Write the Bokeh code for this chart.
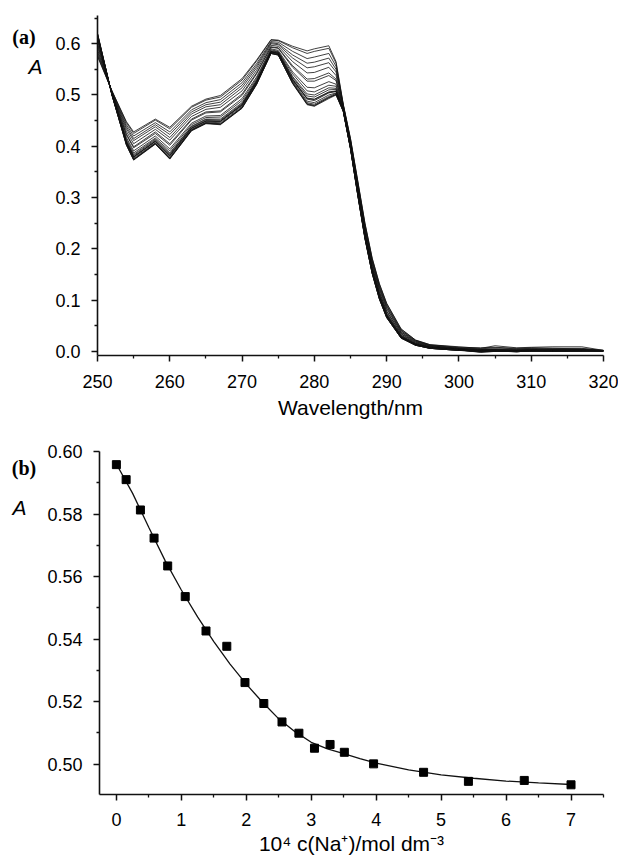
from bokeh.plotting import figure
from bokeh.layouts import column, row
from bokeh.models import Range1d, FixedTicker, PrintfTickFormatter
from bokeh.core.properties import value
from bokeh.embed import file_html
from bokeh.resources import INLINE

# ---------------- panel (a): absorption spectra ----------------
wavelength = [250, 252, 254, 255, 258, 260, 263, 265, 267, 270, 272, 274, 275, 277,
              279, 280, 282, 283, 284, 285, 286, 287, 288, 289, 290, 292, 294, 296,
              300, 303, 305, 308, 310, 313, 317, 320]

# absorbance of the 20 titration spectra (one value per spectrum) at each wavelength
abs_250 = [0.575, 0.577, 0.581, 0.585, 0.589, 0.594, 0.598, 0.601, 0.606, 0.609, 0.611, 0.613, 0.615, 0.614, 0.615, 0.617, 0.618, 0.620, 0.619, 0.620]
abs_252 = [0.508, 0.508, 0.507, 0.506, 0.505, 0.505, 0.504, 0.503, 0.503, 0.502, 0.502, 0.501, 0.501, 0.501, 0.501, 0.501, 0.500, 0.500, 0.500, 0.500]
abs_254 = [0.448, 0.446, 0.442, 0.438, 0.434, 0.429, 0.424, 0.422, 0.417, 0.414, 0.411, 0.409, 0.407, 0.408, 0.407, 0.405, 0.404, 0.403, 0.403, 0.402]
abs_255 = [0.428, 0.425, 0.420, 0.415, 0.411, 0.405, 0.399, 0.397, 0.391, 0.387, 0.384, 0.382, 0.379, 0.380, 0.379, 0.377, 0.375, 0.374, 0.374, 0.373]
abs_258 = [0.453, 0.451, 0.446, 0.442, 0.438, 0.433, 0.428, 0.425, 0.420, 0.416, 0.414, 0.412, 0.410, 0.410, 0.409, 0.407, 0.406, 0.405, 0.405, 0.404]
abs_260 = [0.437, 0.434, 0.428, 0.423, 0.417, 0.412, 0.405, 0.402, 0.395, 0.391, 0.387, 0.385, 0.382, 0.383, 0.381, 0.379, 0.377, 0.376, 0.376, 0.375]
abs_263 = [0.478, 0.476, 0.471, 0.467, 0.463, 0.458, 0.453, 0.451, 0.445, 0.442, 0.439, 0.438, 0.435, 0.436, 0.435, 0.433, 0.432, 0.431, 0.431, 0.430]
abs_265 = [0.492, 0.490, 0.485, 0.481, 0.477, 0.472, 0.467, 0.465, 0.459, 0.456, 0.453, 0.452, 0.449, 0.450, 0.449, 0.447, 0.446, 0.445, 0.445, 0.444]
abs_267 = [0.499, 0.496, 0.491, 0.486, 0.481, 0.476, 0.469, 0.467, 0.460, 0.457, 0.453, 0.451, 0.449, 0.449, 0.448, 0.446, 0.444, 0.443, 0.443, 0.442]
abs_270 = [0.532, 0.529, 0.524, 0.519, 0.514, 0.508, 0.502, 0.499, 0.493, 0.489, 0.485, 0.483, 0.481, 0.481, 0.480, 0.478, 0.476, 0.475, 0.475, 0.474]
abs_272 = [0.568, 0.566, 0.561, 0.557, 0.553, 0.548, 0.543, 0.541, 0.535, 0.532, 0.529, 0.528, 0.525, 0.526, 0.525, 0.523, 0.522, 0.521, 0.521, 0.520]
abs_274 = [0.608, 0.607, 0.604, 0.602, 0.600, 0.597, 0.594, 0.593, 0.590, 0.588, 0.586, 0.585, 0.584, 0.584, 0.584, 0.583, 0.582, 0.581, 0.581, 0.581]
abs_275 = [0.607, 0.606, 0.603, 0.600, 0.598, 0.595, 0.592, 0.591, 0.587, 0.585, 0.584, 0.583, 0.581, 0.582, 0.581, 0.580, 0.579, 0.578, 0.578, 0.578]
abs_277 = [0.595, 0.592, 0.585, 0.578, 0.572, 0.565, 0.557, 0.554, 0.545, 0.541, 0.536, 0.534, 0.530, 0.531, 0.529, 0.527, 0.525, 0.523, 0.523, 0.522]
abs_279 = [0.586, 0.581, 0.571, 0.562, 0.553, 0.543, 0.531, 0.527, 0.515, 0.508, 0.502, 0.498, 0.493, 0.494, 0.492, 0.488, 0.485, 0.482, 0.483, 0.481]
abs_280 = [0.590, 0.585, 0.574, 0.564, 0.555, 0.544, 0.532, 0.527, 0.514, 0.506, 0.500, 0.496, 0.491, 0.492, 0.489, 0.485, 0.482, 0.479, 0.480, 0.478]
abs_282 = [0.596, 0.591, 0.581, 0.572, 0.563, 0.554, 0.543, 0.538, 0.526, 0.519, 0.514, 0.510, 0.505, 0.506, 0.504, 0.500, 0.497, 0.495, 0.495, 0.493]
abs_283 = [0.565, 0.562, 0.556, 0.550, 0.545, 0.538, 0.531, 0.528, 0.521, 0.517, 0.513, 0.511, 0.507, 0.508, 0.507, 0.504, 0.503, 0.501, 0.501, 0.500]
abs_284 = [0.482, 0.481, 0.480, 0.479, 0.478, 0.476, 0.475, 0.474, 0.473, 0.472, 0.471, 0.470, 0.470, 0.470, 0.469, 0.469, 0.469, 0.468, 0.468, 0.468]
abs_285 = [0.415, 0.414, 0.412, 0.410, 0.409, 0.407, 0.405, 0.404, 0.401, 0.400, 0.399, 0.398, 0.397, 0.398, 0.397, 0.396, 0.396, 0.395, 0.395, 0.395]
abs_286 = [0.333, 0.332, 0.329, 0.327, 0.324, 0.322, 0.318, 0.317, 0.314, 0.312, 0.311, 0.310, 0.308, 0.309, 0.308, 0.307, 0.306, 0.305, 0.305, 0.305]
abs_287 = [0.250, 0.249, 0.246, 0.243, 0.241, 0.238, 0.234, 0.233, 0.230, 0.228, 0.226, 0.225, 0.223, 0.224, 0.223, 0.222, 0.221, 0.220, 0.220, 0.220]
abs_288 = [0.182, 0.181, 0.178, 0.175, 0.173, 0.170, 0.166, 0.165, 0.162, 0.160, 0.158, 0.157, 0.155, 0.156, 0.155, 0.154, 0.153, 0.152, 0.152, 0.152]
abs_289 = [0.132, 0.131, 0.128, 0.125, 0.123, 0.120, 0.116, 0.115, 0.112, 0.110, 0.108, 0.107, 0.105, 0.106, 0.105, 0.104, 0.103, 0.102, 0.102, 0.102]
abs_290 = [0.094, 0.093, 0.090, 0.088, 0.085, 0.083, 0.079, 0.078, 0.075, 0.073, 0.072, 0.071, 0.069, 0.070, 0.069, 0.068, 0.067, 0.066, 0.066, 0.066]
abs_292 = [0.044, 0.043, 0.041, 0.040, 0.038, 0.037, 0.035, 0.034, 0.032, 0.031, 0.030, 0.029, 0.028, 0.028, 0.028, 0.027, 0.027, 0.026, 0.026, 0.026]
abs_294 = [0.022, 0.022, 0.021, 0.020, 0.019, 0.018, 0.017, 0.016, 0.015, 0.015, 0.014, 0.014, 0.013, 0.013, 0.013, 0.013, 0.012, 0.012, 0.012, 0.012]
abs_296 = [0.013, 0.013, 0.012, 0.011, 0.011, 0.010, 0.009, 0.009, 0.008, 0.008, 0.007, 0.007, 0.007, 0.007, 0.007, 0.006, 0.006, 0.006, 0.006, 0.006]
abs_300 = [0.009, 0.008, 0.007, 0.006, 0.006, 0.005, 0.005, 0.004, 0.004, 0.004, 0.003, 0.003, 0.003, 0.003, 0.003, 0.002, 0.002, 0.002, 0.002, 0.002]
abs_303 = [0.006, 0.007, 0.005, 0.004, 0.004, 0.003, 0.003, 0.002, 0.002, 0.001, 0.001, 0.000, -0.001, 0.000, -0.002, 0.001, 0.000, -0.001, 0.001, 0.001]
abs_305 = [0.011, 0.008, 0.007, 0.005, 0.004, 0.004, 0.003, 0.003, 0.002, 0.002, 0.001, 0.001, 0.001, 0.002, 0.000, 0.001, 0.001, 0.000, 0.001, 0.001]
abs_308 = [0.007, 0.006, 0.005, 0.004, 0.003, 0.003, 0.002, 0.001, 0.001, 0.000, -0.001, 0.000, 0.001, -0.001, 0.000, 0.001, 0.000, 0.000, 0.001, 0.000]
abs_310 = [0.008, 0.007, 0.006, 0.005, 0.004, 0.004, 0.003, 0.003, 0.002, 0.002, 0.002, 0.001, 0.001, 0.002, 0.001, 0.001, 0.001, 0.000, 0.001, 0.001]
abs_313 = [0.009, 0.006, 0.006, 0.004, 0.004, 0.003, 0.003, 0.002, 0.002, 0.001, 0.001, 0.001, 0.002, 0.001, 0.000, 0.001, 0.001, 0.001, 0.000, 0.001]
abs_317 = [0.009, 0.006, 0.005, 0.004, 0.004, 0.003, 0.003, 0.002, 0.002, 0.002, 0.001, 0.001, 0.001, 0.001, 0.001, 0.001, 0.001, 0.001, 0.001, 0.001]
abs_320 = [0.002, 0.002, 0.002, 0.001, 0.001, 0.001, 0.001, 0.001, 0.001, 0.001, 0.001, 0.001, 0.001, 0.001, 0.001, 0.001, 0.001, 0.001, 0.001, 0.001]

abs_columns = [abs_250, abs_252, abs_254, abs_255, abs_258, abs_260, abs_263, abs_265,
               abs_267, abs_270, abs_272, abs_274, abs_275, abs_277, abs_279, abs_280,
               abs_282, abs_283, abs_284, abs_285, abs_286, abs_287, abs_288, abs_289,
               abs_290, abs_292, abs_294, abs_296, abs_300, abs_303, abs_305, abs_308,
               abs_310, abs_313, abs_317, abs_320]
# regroup per spectrum (one row = one spectrum)
spectra = [list(row_) for row_ in zip(*abs_columns)]

a_xticks = [250, 260, 270, 280, 290, 300, 310, 320]
a_xminor = [255, 265, 275, 285, 295, 305, 315]
a_yticks = [0.0, 0.1, 0.2, 0.3, 0.4, 0.5, 0.6]
a_yminor = [0.05, 0.15, 0.25, 0.35, 0.45, 0.55, 0.65]

# ---------------- panel (b): titration curve ----------------
conc_na = [0.00, 0.15, 0.37, 0.58, 0.79, 1.06, 1.38, 1.70, 1.98, 2.27,
           2.55, 2.81, 3.05, 3.29, 3.51, 3.96, 4.73, 5.42, 6.28, 7.00]
absorb = [0.5958, 0.5910, 0.5813, 0.5723, 0.5634, 0.5536, 0.5426, 0.5377, 0.5261, 0.5194,
          0.5135, 0.5099, 0.5051, 0.5063, 0.5038, 0.5001, 0.4974, 0.4945, 0.4948, 0.4934]

fit_conc = [0.0, 0.25, 0.5, 0.75, 1.0, 1.25, 1.5, 1.75, 2.0, 2.25, 2.5, 2.75,
            3.0, 3.25, 3.5, 3.75, 4.0, 4.5, 5.0, 5.5, 6.0, 6.5, 7.0]
fit_abs = [0.5960, 0.5866, 0.5757, 0.5651, 0.5557, 0.5471, 0.5392, 0.5320, 0.5256, 0.5198,
           0.5145, 0.5104, 0.5070, 0.5049, 0.5034, 0.5018, 0.5003, 0.4982, 0.4966, 0.4955,
           0.4946, 0.4940, 0.4935]

b_xticks = [0, 1, 2, 3, 4, 5, 6, 7]
b_xminor = [0.5, 1.5, 2.5, 3.5, 4.5, 5.5, 6.5, 7.5]
b_yticks = [0.50, 0.52, 0.54, 0.56, 0.58, 0.60]
b_yminor = [0.51, 0.53, 0.55, 0.57, 0.59]

SANS = "Liberation Sans"
SERIF = "Liberation Serif"
INK = "#111111"


def style(p, xt, xm, yt, ym, xfmt, yfmt):
    p.xaxis.ticker = FixedTicker(ticks=xt, minor_ticks=xm)
    p.yaxis.ticker = FixedTicker(ticks=yt, minor_ticks=ym)
    p.xaxis.formatter = PrintfTickFormatter(format=xfmt)
    p.yaxis.formatter = PrintfTickFormatter(format=yfmt)
    p.xgrid.visible = False
    p.ygrid.visible = False
    p.outline_line_color = None
    for ax in p.axis:
        ax.axis_line_color = INK
        ax.axis_line_width = 1.6
        ax.major_tick_line_color = INK
        ax.major_tick_line_width = 1.5
        ax.major_tick_out = 6
        ax.major_tick_in = 0
        ax.minor_tick_line_color = INK
        ax.minor_tick_line_width = 1.3
        ax.minor_tick_out = 3
        ax.minor_tick_in = 0
        ax.major_label_text_font = SANS
        ax.major_label_text_font_size = "18px"
        ax.major_label_text_color = "black"
        ax.axis_label_text_font = SANS
        ax.axis_label_text_font_style = "normal"
        ax.axis_label_text_color = "black"
    p.xaxis.major_label_standoff = 13
    p.yaxis.major_label_standoff = 11


def side_panel(height):
    """Narrow blank canvas (pixel coordinates, y downward) for the panel letter and 'A'."""
    s = figure(width=44, height=height, output_backend="svg", toolbar_location=None,
               x_range=Range1d(0, 44), y_range=Range1d(height, 0),
               x_axis_type=None, y_axis_type=None,
               min_border_left=0, min_border_right=0, min_border_top=0, min_border_bottom=0)
    s.xgrid.visible = False
    s.ygrid.visible = False
    s.outline_line_color = None
    return s


def side_texts(s, letter, lx, ly, ax_, ay_):
    s.text(x=[lx], y=[ly], text=[letter], text_font=value(SERIF), text_font_style="bold",
           text_font_size="20px", text_align="center", text_baseline="middle",
           text_color="black")
    s.text(x=[ax_], y=[ay_], text=["A"], text_font=value(SANS), text_font_style="italic",
           text_font_size="21px", text_align="center", text_baseline="middle",
           text_color="black")


# ---- figure (a)
H1 = 430
p1 = figure(width=574, height=H1, output_backend="svg", toolbar_location=None,
            x_range=Range1d(250, 320), y_range=Range1d(-0.008, 0.655),
            min_border_left=53, min_border_right=15, min_border_top=15, min_border_bottom=75)
p1.multi_line(xs=[wavelength] * len(spectra), ys=spectra, line_color=INK, line_width=0.8)
style(p1, a_xticks, a_xminor, a_yticks, a_yminor, "%d", "%.1f")
p1.xaxis.axis_label = "Wavelength/nm"
p1.xaxis.axis_label_text_font_size = "21px"
p1.xaxis.axis_label_standoff = 5

s1 = side_panel(H1)
side_texts(s1, "(a)", 23.5, 27.5, 35, 65)

# ---- figure (b)
H2 = 432
p2 = figure(width=574, height=H2, output_backend="svg", toolbar_location=None,
            x_range=Range1d(-0.26, 7.5), y_range=Range1d(0.4903, 0.600),
            min_border_left=53, min_border_right=15, min_border_top=21, min_border_bottom=68)
p2.line(fit_conc, fit_abs, line_color=INK, line_width=1.3)
p2.scatter(conc_na, absorb, marker="square", size=8, fill_color="black", line_color="black")
style(p2, b_xticks, b_xminor, b_yticks, b_yminor, "%d", "%.2f")
p2.xaxis.major_label_standoff = 12
p2.xaxis.axis_label = "10\u2074 c(Na\u207a)/mol dm\u207b\u00b3"
p2.xaxis.axis_label_text_font_size = "21px"
p2.xaxis.axis_label_standoff = 3

s2 = side_panel(H2)
side_texts(s2, "(b)", 23.5, 21, 19, 71)

layout = column(row(s1, p1, spacing=0), row(s2, p2, spacing=0), spacing=0)
open("out.html", "w").write(file_html(layout, INLINE))
